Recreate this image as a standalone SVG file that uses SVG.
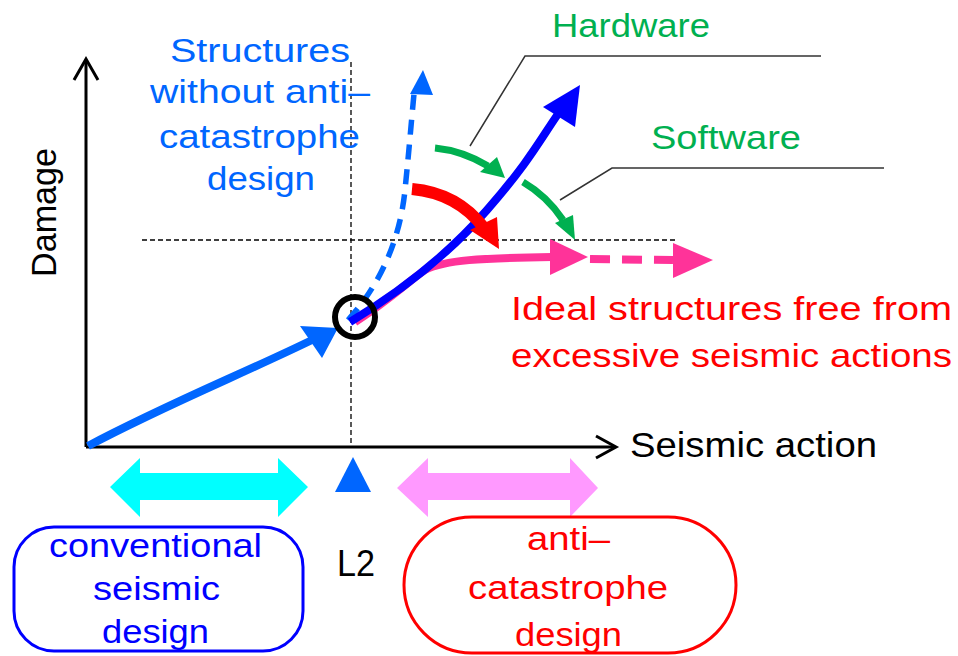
<svg xmlns="http://www.w3.org/2000/svg" width="958" height="656" viewBox="0 0 958 656">
<style>
text{font-family:"Liberation Sans",Arial,sans-serif;font-size:34px}
.ax{fill:none;stroke:#000;stroke-width:3}
.dash{fill:none;stroke:#000;stroke-width:1.3;stroke-dasharray:5 3}
.lead{fill:none;stroke:#333;stroke-width:1.5}
.lb{fill:#0066FF}
.db{fill:#0000FF}
.rd{fill:#FF0000}
.gr{fill:#00B050}
.bk{fill:#000}
</style>
<rect width="958" height="656" fill="#fff"/>
<g id="axes">
<path class="ax" d="M86,447 L86,60"/>
<path class="ax" d="M74,80 L86,59 L98,80"/>
<path class="ax" d="M86,447 L615,447"/>
<path class="ax" d="M596,436 L616,447 L596,458"/>
<path class="dash" d="M351,62 L351,447"/>
<path class="dash" d="M142,240 L678,240"/>
</g>
<g id="labels">
<text class="bk" transform="translate(56,277) rotate(-90)" textLength="129" lengthAdjust="spacingAndGlyphs" style="font-size:35px">Damage</text>
<text class="bk" x="630" y="457" textLength="247" lengthAdjust="spacingAndGlyphs" style="font-size:35px">Seismic action</text>
<text class="bk" x="337" y="576" textLength="38" lengthAdjust="spacingAndGlyphs" style="font-size:36px">L2</text>
</g>
<g id="connectors">
<path d="M88,446 C165,405 240,375 312,340" fill="none" stroke="#0066FF" stroke-width="8"/>
<polygon points="338,328 300,326 322,358" fill="#0066FF"/>
<path d="M348,320 C380,285 400,240 405,190 S411,125 414,94" fill="none" stroke="#0066FF" stroke-width="5.5" stroke-dasharray="15 10"/>
<polygon points="423,70 410,94 433,95" fill="#0066FF"/>
<path d="M355,322 C390,300 410,280 425,270 C445,260 480,258 552,257" fill="none" stroke="#FF3399" stroke-width="8"/>
<polygon points="588,257 550,239 550,275" fill="#FF3399"/>
<path d="M590,259 L673,260" fill="none" stroke="#FF3399" stroke-width="8" stroke-dasharray="20 12"/>
<polygon points="713,260 673,243 673,278" fill="#FF3399"/>
<path d="M350,322 C400,292 445,258 487,210 S540,140 558,114" fill="none" stroke="#0000FF" stroke-width="8"/>
<polygon points="580,85 543,107 575,127" fill="#0000FF"/>
<path d="M412,189 C445,192 468,207 484,228" fill="none" stroke="#FF0000" stroke-width="12"/>
<polygon points="499,249 470,230 497,217" fill="#FF0000"/>
<path d="M435,148 C455,150 473,157 488,166" fill="none" stroke="#00B050" stroke-width="7"/>
<polygon points="505,178 480,172 497,157" fill="#00B050"/>
<path d="M523,182 C540,192 553,205 563,220" fill="none" stroke="#00B050" stroke-width="7"/>
<polygon points="575,240 555,223 573,215" fill="#00B050"/>
<path class="lead" d="M470,146 L525,56 L821,56"/>
<path class="lead" d="M560,200 L612,168 L884,168"/>
<circle cx="355" cy="317" r="20" fill="none" stroke="#000" stroke-width="6"/>
</g>
<g id="hardware">
<text class="gr" x="552" y="37" textLength="158" lengthAdjust="spacingAndGlyphs">Hardware</text>
</g>
<g id="software">
<text class="gr" x="651" y="149" textLength="150" lengthAdjust="spacingAndGlyphs">Software</text>
</g>
<g id="without">
<text class="lb" x="170" y="62" textLength="180" lengthAdjust="spacingAndGlyphs">Structures</text>
<text class="lb" x="150" y="103" textLength="220" lengthAdjust="spacingAndGlyphs">without anti–</text>
<text class="lb" x="159" y="148" textLength="201" lengthAdjust="spacingAndGlyphs">catastrophe</text>
<text class="lb" x="207" y="190" textLength="108" lengthAdjust="spacingAndGlyphs">design</text>
</g>
<g id="ideal">
<text class="rd" x="511" y="320" textLength="441" lengthAdjust="spacingAndGlyphs">Ideal structures free from</text>
<text class="rd" x="511" y="367" textLength="441" lengthAdjust="spacingAndGlyphs">excessive seismic actions</text>
</g>
<g id="ranges">
<polygon points="110,487 140,458 140,473 278,473 278,458 308,487 278,517 278,500 140,500 140,517" fill="#00FFFF"/>
<polygon points="353,457 371,492 335,492" fill="#0066FF"/>
<polygon points="397,488 428,458 428,473 570,473 570,458 598,488 570,517 570,500 428,500 428,517" fill="#FF99FF"/>
</g>
<g id="conventional">
<rect x="14" y="527" width="289" height="124" rx="40" ry="40" fill="none" stroke="#0000FF" stroke-width="3"/>
<text class="db" x="49" y="557" textLength="213" lengthAdjust="spacingAndGlyphs">conventional</text>
<text class="db" x="93" y="600" textLength="127" lengthAdjust="spacingAndGlyphs">seismic</text>
<text class="db" x="102" y="643" textLength="107" lengthAdjust="spacingAndGlyphs">design</text>
</g>
<g id="anticatastrophe">
<rect x="404" y="517" width="332" height="136" rx="68" ry="68" fill="none" stroke="#FF0000" stroke-width="3"/>
<text class="rd" x="527" y="550" textLength="83" lengthAdjust="spacingAndGlyphs">anti–</text>
<text class="rd" x="468" y="599" textLength="200" lengthAdjust="spacingAndGlyphs">catastrophe</text>
<text class="rd" x="515" y="646" textLength="107" lengthAdjust="spacingAndGlyphs">design</text>
</g>
</svg>
